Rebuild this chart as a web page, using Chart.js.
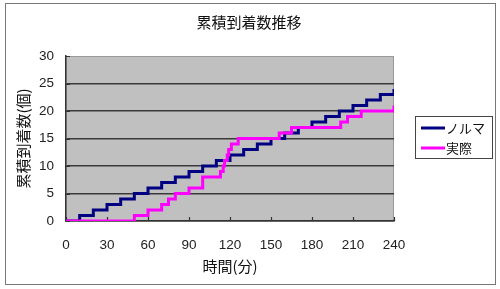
<!DOCTYPE html>
<html>
<head>
<meta charset="utf-8">
<script src="https://cdn.jsdelivr.net/npm/chart.js@4.4.1/dist/chart.umd.min.js"></script>
<style>
html, body { margin: 0; padding: 0; background: #fff; }
#wrap { width: 500px; height: 289px; }
</style>
</head>
<body>
<div id="wrap"><canvas id="chart"></canvas></div>
<script>
const chartTitle = '累積到着数推移';
const xTitle = '時間(分)';
const yTitle = '累積到着数(個)';
const seriesNames = ['ノルマ', '実際'];
const seriesColors = ['#000080', '#ff00ff'];

// ノルマ: step times (min) and cumulative counts
const normaTimes = [0, 10, 20, 30, 40, 50, 60, 70, 80, 90, 100, 110, 120, 130, 140, 150, 160, 170, 180, 190, 200, 210, 220, 230, 240];
const normaCounts = [0, 1, 2, 3, 4, 5, 6, 7, 8, 9, 10, 11, 12, 13, 14, 15, 16, 17, 18, 19, 20, 21, 22, 23, 24];

// 実際: step times (min) and cumulative counts
const actualTimes = [0, 50, 60, 70, 75, 80, 90, 100, 113, 115, 116, 118, 119, 121, 126, 156, 165, 201, 206, 216, 240];
const actualCounts = [0, 1, 2, 3, 4, 5, 6, 8, 9, 10, 11, 12, 13, 14, 15, 16, 17, 18, 19, 20, 21];

const xTicks = [0, 30, 60, 90, 120, 150, 180, 210, 240];
const yTicks = [0, 5, 10, 15, 20, 25, 30];

const jpFont = '"Noto Sans CJK JP", sans-serif';
const numFont = '"Liberation Sans", Arial, sans-serif';

function toPoints(xs, ys) {
    return xs.map((x, i) => ({ x: x, y: ys[i] }));
}

// white page, outer frame, grey plot area
const framePlugin = {
    id: 'frame',
    beforeDraw(chart) {
        const ctx = chart.ctx;
        const a = chart.chartArea;
        ctx.save();
        ctx.fillStyle = '#fff';
        ctx.fillRect(0, 0, chart.width, chart.height);
        ctx.strokeStyle = '#777';
        ctx.lineWidth = 1;
        ctx.strokeRect(5.5, 3.5, 490, 281);
        ctx.fillStyle = '#c0c0c0';
        ctx.fillRect(a.left, a.top, a.right - a.left, a.bottom - a.top);
        ctx.strokeStyle = '#999';
        ctx.strokeRect(a.left, a.top + 0.5, a.right - a.left - 0.5, a.bottom - a.top);
        ctx.restore();
    },
    beforeDatasetsDraw(chart) {
        // small inside tick marks, as in the original
        const ctx = chart.ctx;
        const a = chart.chartArea;
        const xs = chart.scales.x, ys = chart.scales.y;
        ctx.save();
        ctx.strokeStyle = '#333';
        ctx.lineWidth = 1.2;
        ctx.beginPath();
        xTicks.forEach(v => {
            const px = Math.round(xs.getPixelForValue(v)) + 0.5;
            ctx.moveTo(px, a.bottom);
            ctx.lineTo(px, a.bottom - 4);
        });
        yTicks.forEach(v => {
            const py = Math.round(ys.getPixelForValue(v)) + 0.5;
            ctx.moveTo(a.left, py);
            ctx.lineTo(a.left + 4, py);
        });
        ctx.stroke();
        ctx.restore();
    },
    afterDraw(chart) {
        const ctx = chart.ctx;
        ctx.save();
        // title
        ctx.fillStyle = '#111';
        ctx.font = '15px ' + jpFont;
        ctx.textAlign = 'center';
        ctx.textBaseline = 'middle';
        ctx.fillText(chartTitle, 249, 22);
        // legend
        const bx = 415.5, by = 116.5, bw = 77, bh = 42;
        ctx.fillStyle = '#fff';
        ctx.fillRect(bx, by, bw, bh);
        ctx.strokeStyle = '#444';
        ctx.lineWidth = 1;
        ctx.strokeRect(bx, by, bw, bh);
        const rows = [128, 148];
        chart.data.datasets.forEach((ds, i) => {
            ctx.strokeStyle = ds.borderColor;
            ctx.lineWidth = 3;
            ctx.beginPath();
            ctx.moveTo(421, rows[i]);
            ctx.lineTo(445, rows[i]);
            ctx.stroke();
            ctx.fillStyle = '#111';
            ctx.font = '13px ' + jpFont;
            ctx.textAlign = 'left';
            ctx.fillText(ds.label, 446, rows[i]);
        });
        ctx.restore();
    }
};

new Chart(document.getElementById('chart'), {
    type: 'line',
    data: {
        datasets: [
            {
                label: seriesNames[0],
                data: toPoints(normaTimes, normaCounts),
                borderColor: seriesColors[0],
                borderWidth: 3,
                stepped: 'before',
                pointRadius: 0,
                fill: false,
                order: 2
            },
            {
                label: seriesNames[1],
                data: toPoints(actualTimes, actualCounts),
                borderColor: seriesColors[1],
                borderWidth: 3,
                stepped: 'before',
                pointRadius: 0,
                fill: false,
                order: 1
            }
        ]
    },
    options: {
        responsive: true,
        maintainAspectRatio: false,
        animation: false,
        events: [],
        layout: { padding: { left: 0, right: 106, top: 56, bottom: 0 } },
        plugins: {
            legend: { display: false },
            title: { display: false },
            tooltip: { enabled: false }
        },
        scales: {
            x: {
                type: 'linear',
                min: 0,
                max: 240,
                afterBuildTicks: s => { s.ticks = xTicks.map(v => ({ value: v })); },
                afterFit: s => { s.height = 68; },
                ticks: {
                    padding: 16,
                    color: '#222',
                    font: { family: numFont, size: 13.5 },
                    maxRotation: 0
                },
                grid: { drawOnChartArea: false, drawTicks: false },
                border: { color: '#333', width: 1.5 },
                title: {
                    display: true,
                    text: xTitle,
                    color: '#111',
                    font: { family: jpFont, size: 15 },
                    padding: { top: 0, bottom: 14 }
                }
            },
            y: {
                type: 'linear',
                min: 0,
                max: 30,
                afterBuildTicks: s => { s.ticks = yTicks.map(v => ({ value: v })); },
                afterFit: s => { s.width = 66; },
                ticks: {
                    padding: 12,
                    color: '#222',
                    font: { family: numFont, size: 13.5 }
                },
                grid: {
                    drawTicks: false,
                    color: c => (c.tick && (c.tick.value === 30 || c.tick.value === 0)) ? 'rgba(0,0,0,0)' : '#3a3a3a',
                    lineWidth: 1.5
                },
                border: { color: '#333', width: 1.5 },
                title: {
                    display: true,
                    text: yTitle,
                    color: '#111',
                    font: { family: jpFont, size: 15 },
                    padding: { top: 14, bottom: 0 }
                }
            }
        }
    },
    plugins: [framePlugin]
});
</script>
</body>
</html>
